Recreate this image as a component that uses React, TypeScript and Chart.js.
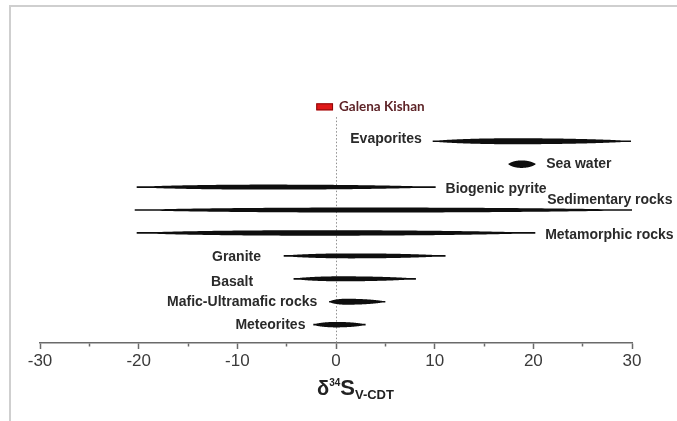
import React, { useEffect, useRef } from 'react';
import { Chart, registerables } from 'chart.js';

Chart.register(...registerables);

// ---------- data ----------
const rockTypes = [
  'Evaporites',
  'Sea water',
  'Biogenic pyrite',
  'Sedimentary rocks',
  'Metamorphic rocks',
  'Granite',
  'Basalt',
  'Mafic-Ultramafic rocks',
  'Meteorites',
];
const rangeMin = [9.8, 17.5, -20.2, -20.4, -20.2, -5.3, -4.3, -0.7, -2.3];
const rangeMax = [29.9, 20.2, 10.1, 30.0, 20.2, 11.1, 8.1, 5.0, 3.0];
const rangeMode = [18, 18.8, -7, 3, -2, 1.5, 0.5, 1, 0];

const sampleName = 'Galena Kishan';
const sampleMin = -2.0;
const sampleMax = -0.3;

const xTickLabels = [-30, -20, -10, 0, 10, 20, 30];

// ---------- styles / layout (not data) ----------
const SAMPLE_ROW = -1.5;
const lensHeight = [6, 7.5, 5, 5, 5.5, 5, 5, 6, 5.5];
const labelAnchor = [8.7, 21.3, 11.1, 21.4, 21.2, -7.6, -8.4, -1.9, -3.1];
const labelSide = ['L', 'R', 'R', 'R', 'R', 'L', 'L', 'L', 'L'];
const labelDy = [-2, 0, 2, -10, 2, 1, 3, 0, 0];
const SANS = "'Liberation Sans', Arial, Helvetica, sans-serif";
const AXIS_COLOR = '#6a6a6a';

function drawLens(ctx: CanvasRenderingContext2D, x0: number, x1: number, xp: number, y: number, h: number) {
  const lo = Math.min(x0, x1);
  const hi = Math.max(x0, x1);
  const p = Math.min(Math.max(xp, lo + 1), hi - 1);
  const hw = (x: number) => {
    let s = x <= p ? (x - lo) / (p - lo) : (hi - x) / (hi - p);
    s = Math.max(0, Math.min(1, s));
    return Math.max(0.85, (h / 2) * Math.pow(1 - (1 - s) * (1 - s), 0.7));
  };
  const N = 160;
  ctx.beginPath();
  for (let k = 0; k <= N; k++) {
    const x = lo + ((hi - lo) * k) / N;
    const yy = y - hw(x);
    if (k === 0) ctx.moveTo(x, yy);
    else ctx.lineTo(x, yy);
  }
  for (let k = N; k >= 0; k--) {
    const x = lo + ((hi - lo) * k) / N;
    ctx.lineTo(x, y + hw(x));
  }
  ctx.closePath();
  ctx.fill();
}

const lensPlugin = {
  id: 'lensPlugin',
  beforeDraw(chart: any) {
    const ctx = chart.ctx as CanvasRenderingContext2D;
    ctx.save();
    ctx.fillStyle = '#cfcfcf';
    ctx.fillRect(9, 5, 668, 2);
    ctx.fillRect(9, 5, 2, 416);
    ctx.restore();
  },
  beforeDatasetsDraw(chart: any) {
    const ctx = chart.ctx as CanvasRenderingContext2D;
    const xs = chart.scales.x;
    const ys = chart.scales.y;
    const x0 = Math.round(xs.getPixelForValue(0)) + 0.5;
    ctx.save();
    ctx.strokeStyle = '#8f8f8f';
    ctx.lineWidth = 1;
    ctx.setLineDash([1.5, 2]);
    ctx.beginPath();
    ctx.moveTo(x0, ys.getPixelForValue(SAMPLE_ROW + 0.45));
    ctx.lineTo(x0, chart.chartArea.bottom);
    ctx.stroke();
    ctx.restore();
  },
  afterDatasetsDraw(chart: any) {
    const ctx = chart.ctx as CanvasRenderingContext2D;
    const xs = chart.scales.x;
    const meta = chart.getDatasetMeta(0);
    ctx.save();
    ctx.fillStyle = '#0e0e0e';
    meta.data.forEach((el: any, i: number) => {
      drawLens(ctx, el.base, el.x, xs.getPixelForValue(rangeMode[i]), el.y, lensHeight[i]);
    });
    // labels
    ctx.font = `bold 14px ${SANS}`;
    ctx.fillStyle = '#2a2a2a';
    ctx.textBaseline = 'middle';
    meta.data.forEach((el: any, i: number) => {
      ctx.textAlign = labelSide[i] === 'L' ? 'right' : 'left';
      ctx.fillText(rockTypes[i], xs.getPixelForValue(labelAnchor[i]), el.y + labelDy[i]);
    });
    // sample box
    const sMeta = chart.getDatasetMeta(1);
    const s = sMeta.data[0] as any;
    if (s) {
      const left = Math.min(s.base, s.x);
      const w = Math.abs(s.x - s.base);
      ctx.fillStyle = '#e01818';
      ctx.fillRect(left, s.y - 3.5, w, 7);
      ctx.strokeStyle = '#8a0a0a';
      ctx.lineWidth = 1;
      ctx.strokeRect(left + 0.5, s.y - 3, w - 1, 6);
      ctx.font = `bold 13.5px Lato, 'Open Sans', sans-serif`;
      ctx.fillStyle = '#5e2428';
      ctx.textAlign = 'left';
      ctx.fillText(sampleName, Math.max(s.base, s.x) + 6, s.y);
    }
    ctx.restore();
  },
  afterDraw(chart: any) {
    const ctx = chart.ctx as CanvasRenderingContext2D;
    const xs = chart.scales.x;
    const base = chart.chartArea.bottom + 52;
    let x = xs.getPixelForValue(0) - 19;
    ctx.save();
    ctx.fillStyle = '#222222';
    ctx.textAlign = 'left';
    ctx.textBaseline = 'alphabetic';
    ctx.font = `bold 20px ${SANS}`;
    ctx.fillText('δ', x, base);
    x += ctx.measureText('δ').width;
    ctx.font = `bold 10px ${SANS}`;
    ctx.fillText('34', x, base - 9);
    x += ctx.measureText('34').width;
    ctx.font = `bold 22px ${SANS}`;
    ctx.fillText('S', x, base);
    x += ctx.measureText('S').width;
    ctx.font = `bold 13px ${SANS}`;
    ctx.fillText('V-CDT', x, base + 4);
    ctx.restore();
  },
};

export default function App() {
  const ref = useRef<HTMLCanvasElement>(null);
  useEffect(() => {
    document.body.style.margin = '0';
    const canvas = ref.current;
    if (!canvas) return;
    const chart = new Chart(canvas, {
      type: 'bar',
      data: {
        datasets: [
          {
            label: 'Sulfur isotope ranges',
            data: rockTypes.map((_, i) => ({ x: [rangeMin[i], rangeMax[i]], y: i })) as any,
            backgroundColor: 'rgba(0,0,0,0)',
            borderWidth: 0,
            grouped: false,
          } as any,
          {
            label: sampleName,
            data: [{ x: [sampleMin, sampleMax], y: SAMPLE_ROW }] as any,
            backgroundColor: 'rgba(0,0,0,0)',
            borderWidth: 0,
            grouped: false,
          } as any,
        ],
      },
      options: {
        indexAxis: 'y',
        animation: false,
        responsive: false,
        events: [],
        layout: { padding: { left: 40, right: 45, top: 61, bottom: 0 } },
        plugins: { legend: { display: false }, tooltip: { enabled: false } },
        scales: {
          x: {
            type: 'linear',
            position: 'bottom',
            min: -30,
            max: 30,
            afterFit: (s: any) => {
              s.height = 78;
            },
            ticks: {
              stepSize: 5,
              autoSkip: false,
              maxRotation: 0,
              padding: 2,
              color: '#3a3a3a',
              font: { family: SANS, size: 17 },
              callback: (v: any) => (xTickLabels.includes(Number(v)) ? String(v) : ''),
            },
            grid: {
              drawOnChartArea: false,
              drawTicks: true,
              tickLength: 6,
              tickColor: AXIS_COLOR,
              tickWidth: 1.5,
              tickBorderDash: (c: any) => (xTickLabels.includes(c.tick?.value) ? [] : [3, 20]),
            },
            border: { display: true, color: AXIS_COLOR, width: 1.5 },
          } as any,
          y: {
            type: 'linear',
            display: false,
            reverse: true,
            offset: false,
            min: -3.5,
            max: 8.8,
          },
        },
      } as any,
      plugins: [lensPlugin],
    });
    return () => chart.destroy();
  }, []);
  return (
    <div style={{ width: 677, height: 421, position: 'relative' }}>
      <canvas ref={ref} width={677} height={421} style={{ display: 'block', width: 677, height: 421 }} />
    </div>
  );
}
